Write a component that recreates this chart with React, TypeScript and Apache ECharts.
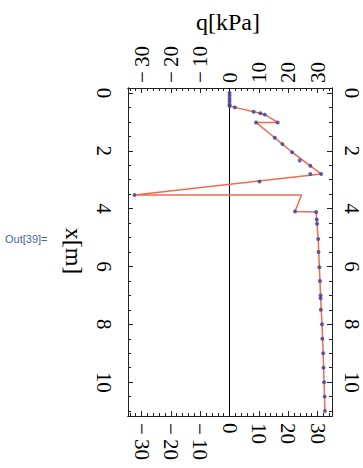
import React, { useEffect, useRef } from 'react';
import * as echarts from 'echarts';

// measured data (x in m, q in kPa)
const pointX = [0, 0.1, 0.2, 0.3, 0.4, 0.45, 0.5, 0.65, 0.7, 0.75, 1.02, 1.02, 1.55, 1.77, 2.05, 2.34, 2.52, 2.8, 2.8, 3.06, 3.53, 4.1, 4.12, 4.38, 4.52, 5.05, 5.5, 6.03, 6.5, 7.0, 7.1, 7.5, 8.0, 8.5, 9.0, 9.5, 10.0, 10.5, 11.0];
const pointQ = [0, 0, 0, 0, 0, 0, 1.8, 8.2, 10.5, 12, 16.4, 9, 15.4, 18, 21.3, 23.9, 27.5, 27.5, 31.2, 10.2, -32.4, 22.3, 29.5, 29.7, 29.8, 30.2, 30.3, 30.6, 30.8, 31.0, 31.0, 31.1, 31.5, 31.6, 31.9, 32.0, 32.2, 32.4, 32.5];

const lineX = [0, 0.45, 0.5, 0.65, 0.7, 0.75, 1.02, 1.02, 1.55, 1.77, 2.05, 2.52, 2.8, 3.53, 3.53, 4.1, 4.12, 4.38, 5.05, 6.03, 7.0, 8.0, 9.0, 10.0, 11.0];
const lineQ = [0, 0, 1.8, 8.2, 10.5, 12, 16.4, 9, 15.4, 18, 21.3, 27.5, 31.2, -32.4, 24.5, 22.3, 29.5, 29.7, 30.2, 30.6, 31.0, 31.5, 31.9, 32.2, 32.5];

const qMajor = [-30, -20, -10, 0, 10, 20, 30];
const qMinor = [-34, -32, -28, -26, -24, -22, -18, -16, -14, -12, -8, -6, -4, -2, 2, 4, 6, 8, 12, 14, 16, 18, 22, 24, 26, 28, 32, 34];
const xMajor = [0, 2, 4, 6, 8, 10];
const xMinor = [0.5, 1, 1.5, 2.5, 3, 3.5, 4.5, 5, 5.5, 6.5, 7, 7.5, 8.5, 9, 9.5, 10.5, 11];

const Q_MIN = -34.6;
const Q_MAX = 34.9;
const X_MIN = -0.17;
const X_MAX = 11.17;

const SERIF = '"Liberation Serif", "DejaVu Serif", serif';
const FRAME = '#222';

const fmt = (v: number) => (v < 0 ? '\u2212\u2009' + Math.abs(v) : String(v));

function xAxisDef(pos: string, ticks: number[], len: number, label: boolean, margin: number) {
  return {
    type: 'value',
    position: pos,
    min: Q_MIN,
    max: Q_MAX,
    axisLine: { show: true, onZero: false, lineStyle: { color: FRAME, width: 1 } },
    axisTick: { show: true, inside: true, length: len, customValues: ticks, lineStyle: { color: FRAME, width: 1 } },
    axisLabel: label
      ? { show: true, customValues: ticks, rotate: -90, formatter: fmt, fontFamily: SERIF, fontSize: 21, color: '#000', margin }
      : { show: false },
    splitLine: { show: false },
  };
}

function yAxisDef(pos: string, ticks: number[], len: number, label: boolean, margin: number) {
  return {
    type: 'value',
    position: pos,
    inverse: true,
    min: X_MIN,
    max: X_MAX,
    axisLine: { show: true, onZero: false, lineStyle: { color: FRAME, width: 1 } },
    axisTick: { show: true, inside: true, length: len, customValues: ticks, lineStyle: { color: FRAME, width: 1 } },
    axisLabel: label
      ? { show: true, customValues: ticks, rotate: -90, formatter: fmt, fontFamily: SERIF, fontSize: 21, color: '#000', margin }
      : { show: false },
    splitLine: { show: false },
  };
}

export default function App() {
  const ref = useRef<HTMLDivElement>(null);
  useEffect(() => {
    document.body.style.margin = '0';
    const chart = echarts.init(ref.current!, null, { renderer: 'svg' });
    chart.setOption({
      animation: false,
      backgroundColor: '#fff',
      grid: { left: 128, top: 88, width: 204, height: 328, containLabel: false },
      xAxis: [
        xAxisDef('bottom', qMajor, 5, true, 7),
        xAxisDef('top', qMajor, 5, true, 5),
        xAxisDef('bottom', qMinor, 3, false, 0),
        xAxisDef('top', qMinor, 3, false, 0),
      ],
      yAxis: [
        yAxisDef('left', xMajor, 5, true, 14),
        yAxisDef('right', xMajor, 5, true, 9),
        yAxisDef('left', xMinor, 3, false, 0),
        yAxisDef('right', xMinor, 3, false, 0),
      ],
      series: [
        {
          type: 'line',
          xAxisIndex: 0,
          yAxisIndex: 0,
          data: lineQ.map((q, i) => [q, lineX[i]]),
          showSymbol: false,
          symbol: 'none',
          lineStyle: { color: '#f26b50', width: 1.5 },
          z: 2,
          markLine: {
            silent: true,
            symbol: 'none',
            label: { show: false },
            lineStyle: { color: '#000', width: 1, type: 'solid' },
            data: [{ xAxis: 0 }],
            z: 1,
          },
        },
        {
          type: 'scatter',
          xAxisIndex: 0,
          yAxisIndex: 0,
          data: pointQ.map((q, i) => [q, pointX[i]]),
          symbolSize: 4,
          itemStyle: { color: '#3c3c9e' },
          z: 3,
        },
      ],
      graphic: [
        {
          type: 'text',
          x: 228,
          y: 22,
          style: { text: 'q[kPa]', font: '24px "Liberation Serif", serif', fill: '#000', textAlign: 'center', textVerticalAlign: 'middle' },
        },
        {
          type: 'text',
          x: 74,
          y: 251,
          rotation: -Math.PI / 2,
          style: { text: 'x[m]', font: '24px "Liberation Serif", serif', fill: '#000', textAlign: 'center', textVerticalAlign: 'middle' },
        },
        {
          type: 'text',
          x: 5,
          y: 239,
          style: { text: 'Out[39]=', font: '11px "Liberation Sans", Arial, sans-serif', fill: '#4a5fb0', textAlign: 'left', textVerticalAlign: 'middle' },
        },
      ],
    });
    return () => chart.dispose();
  }, []);
  return <div ref={ref} style={{ position: 'absolute', left: 0, top: 0, width: 363, height: 468 }} />;
}
